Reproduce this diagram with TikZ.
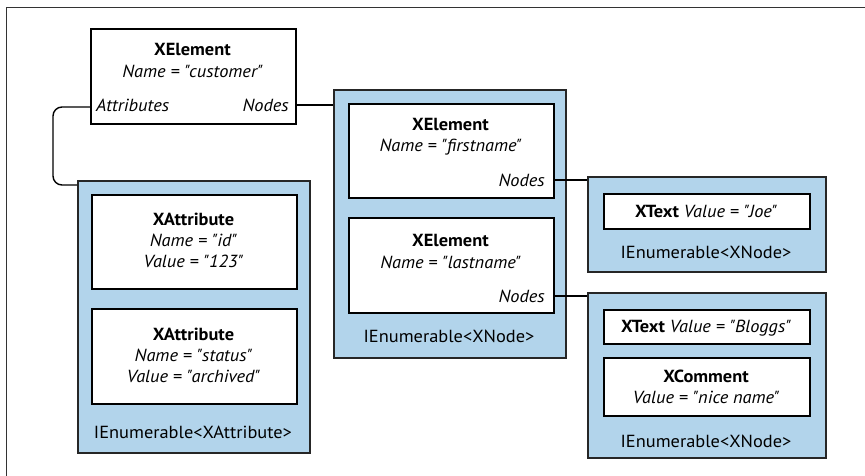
\documentclass[tikz,border=0pt]{standalone}
\usepackage{fontspec}
\setmainfont{PT Sans}[FakeStretch=1.05, Ligatures=TeXOff]
\definecolor{myblue}{RGB}{178,212,235}
\tikzset{
  wbox/.style={draw=black, line width=1.8pt, fill=white, inner sep=0pt, anchor=north west},
  bbox/.style={draw=black!85, line width=1.8pt, fill=myblue, inner sep=0pt, anchor=north west},
  ttl/.style={font=\bfseries\fontsize{17.5}{21}\selectfont, anchor=base, inner sep=0pt},
  itl/.style={font=\itshape\fontsize{17.5}{21}\selectfont, anchor=base, inner sep=0pt},
  rgl/.style={font=\fontsize{17.5}{21}\selectfont, anchor=base, inner sep=0pt},
  conn/.style={line width=1.4pt},
  frame/.style={line width=1pt, draw=black!80}
}
\begin{document}
\begin{tikzpicture}[x=1pt,y=-1pt]
\useasboundingbox (0,0) rectangle (865,476);
\draw[frame] (6.5,480) -- (6.5,8) -- (870,8);

% customer element
\node[wbox, minimum width=205pt, minimum height=95pt] (cust) at (90,28) {};
\node[ttl] (custT) at (192.5,56) {XElement};
\node[itl] (custN) at (192.5,78) {Name = "customer"};
\node[itl, anchor=base west] (cattr) at (96,112) {Attributes};
\node[itl, anchor=base east] (cnodes) at (289,112) {Nodes};

% attributes collection
\node[bbox, minimum width=232pt, minimum height=272pt] (attrs) at (77,180) {};
\node[wbox, minimum width=205pt, minimum height=94pt] (a1) at (91,194) {};
\node[ttl] (a1T) at (193.5,225) {XAttribute};
\node[itl] (a1N) at (193.5,246) {Name = "id"};
\node[itl] (a1V) at (193.5,267) {Value = "123"};
\node[wbox, minimum width=205pt, minimum height=95pt] (a2) at (91,308) {};
\node[ttl] (a2T) at (193.5,340) {XAttribute};
\node[itl] (a2N) at (193.5,361) {Name = "status"};
\node[itl] (a2V) at (193.5,382) {Value = "archived"};
\node[rgl] (attrsL) at (193,438) {IEnumerable<XAttribute>};

% nodes collection (middle)
\node[bbox, minimum width=232pt, minimum height=268pt] (mid) at (333,89) {};
\node[wbox, minimum width=205pt, minimum height=94pt] (fn) at (348,103) {};
\node[ttl] (fnT) at (450.5,131) {XElement};
\node[itl] (fnN) at (450.5,152) {Name = "firstname"};
\node[itl, anchor=base east] (fnodes) at (545,186) {Nodes};
\node[wbox, minimum width=205pt, minimum height=95pt] (ln) at (348,217) {};
\node[ttl] (lnT) at (450.5,246) {XElement};
\node[itl] (lnN) at (450.5,268) {Name = "lastname"};
\node[itl, anchor=base east] (lnodes) at (545,302) {Nodes};
\node[rgl] (midL) at (449,342) {IEnumerable<XNode>};

% firstname nodes
\node[bbox, minimum width=238pt, minimum height=95pt] (r1) at (587,176) {};
\node[wbox, minimum width=206pt, minimum height=35pt] (joe) at (603,193) {};
\node[rgl] (joeT) at (706,217) {\textbf{XText} \textit{Value = "Joe"}};
\node[rgl] (r1L) at (706,258) {IEnumerable<XNode>};

% lastname nodes
\node[bbox, minimum width=238pt, minimum height=165pt] (r2) at (587,292) {};
\node[wbox, minimum width=206pt, minimum height=34pt] (blg) at (603,309) {};
\node[rgl] (blgT) at (706,332.5) {\textbf{XText} \textit{Value = "Bloggs"}};
\node[wbox, minimum width=206pt, minimum height=58pt] (cmt) at (603,357) {};
\node[ttl] (cmtT) at (706,382) {XComment};
\node[itl] (cmtV) at (706,403) {Value = "nice name"};
\node[rgl] (r2L) at (706,447) {IEnumerable<XNode>};

% connectors
\draw[conn, rounded corners=9pt] (cust.west |- 0,107) -- (53,107) -- (53,185) -- (attrs.west |- 0,185);
\draw[conn] (cust.east |- 0,105) -- (mid.west |- 0,105);
\draw[conn] (fn.east |- 0,180) -- (r1.west |- 0,180);
\draw[conn] (ln.east |- 0,296) -- (r2.west |- 0,296);
\end{tikzpicture}
\end{document}
